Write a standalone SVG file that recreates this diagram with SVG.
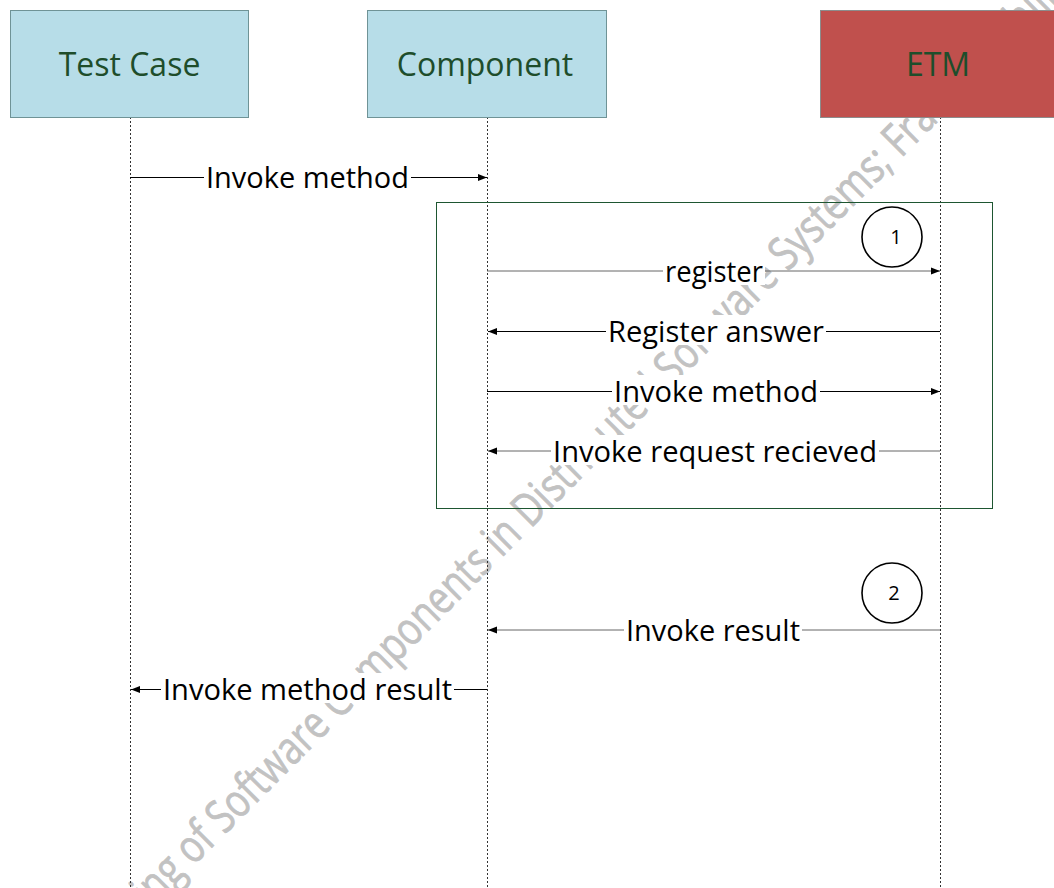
<svg xmlns="http://www.w3.org/2000/svg" width="1054" height="888" viewBox="0 0 1054 888">
<style>
.wm{font-family:"Open Sans","DejaVu Sans",sans-serif;font-size:46px;fill:#c2c2c2;stroke:#c2c2c2;stroke-width:0.8}
.node text{font-family:"Open Sans","Liberation Sans",sans-serif;font-size:32px;fill:#1e4d2b;text-anchor:middle}
.box{fill:#b7dde8;stroke:#6f9396;stroke-width:1}
.etm{fill:#c0504d;stroke:#8c8c8c;stroke-width:1}
.lbl{font-family:"Open Sans","Liberation Sans",sans-serif;font-size:29px;fill:#000;text-anchor:middle}
.lifeline{stroke:#333;stroke-width:1;stroke-dasharray:2 2;fill:none}
.msg{stroke:#000;stroke-width:1;fill:none}
.msg.g{stroke:#666}
.bg{fill:#fff}
.step circle{fill:#fff;stroke:#000;stroke-width:1.6}
.step text{font-family:"Open Sans","Liberation Sans",sans-serif;font-size:20px;fill:#000;text-anchor:middle}
.frame{fill:none;stroke:#1e5631;stroke-width:1}
</style>
<defs>
<marker id="ah" viewBox="0 0 10 10" refX="10" refY="5" markerWidth="9" markerHeight="9" markerUnits="userSpaceOnUse" orient="auto"><path d="M0,1 L10,5 L0,9 z" fill="#000"/></marker>
</defs>
<rect width="1054" height="888" fill="#fff"/>
<text class="wm" x="99.5" y="960" transform="rotate(-45 99.5 960)" textLength="1400" lengthAdjust="spacingAndGlyphs">Testing of Software Components in Distributed Software Systems; François Thillen</text>
<g id="lifelines">
<line class="lifeline" x1="130.5" y1="117" x2="130.5" y2="888"/>
<line class="lifeline" x1="487.5" y1="117" x2="487.5" y2="888"/>
<line class="lifeline" x1="940.5" y1="117" x2="940.5" y2="888"/>
</g>
<rect id="loop-frame" class="frame" x="436.5" y="202.5" width="556" height="306"/>
<g id="connectors">
<line class="msg" x1="130" y1="177.5" x2="487" y2="177.5" marker-end="url(#ah)"/>
<line class="msg g" x1="487" y1="271" x2="940" y2="271" marker-end="url(#ah)"/>
<line class="msg" x1="940" y1="331.5" x2="488" y2="331.5" marker-end="url(#ah)"/>
<line class="msg" x1="487" y1="391.5" x2="940" y2="391.5" marker-end="url(#ah)"/>
<line class="msg g" x1="940" y1="451" x2="488" y2="451" marker-end="url(#ah)"/>
<line class="msg g" x1="940" y1="630" x2="488" y2="630" marker-end="url(#ah)"/>
<line class="msg" x1="487" y1="689.5" x2="131" y2="689.5" marker-end="url(#ah)"/>
<g id="labels">
<rect class="bg" x="204" y="161" width="207" height="30"/>
<text class="lbl" x="307.5" y="188" textLength="203" lengthAdjust="spacingAndGlyphs">Invoke method</text>
<rect class="bg" x="663" y="255" width="102" height="30"/>
<text class="lbl" x="714" y="282" textLength="98" lengthAdjust="spacingAndGlyphs">register</text>
<rect class="bg" x="606" y="315" width="220" height="30"/>
<text class="lbl" x="716" y="342" textLength="216" lengthAdjust="spacingAndGlyphs">Register answer</text>
<rect class="bg" x="612" y="375" width="208" height="30"/>
<text class="lbl" x="716" y="402" textLength="204" lengthAdjust="spacingAndGlyphs">Invoke method</text>
<rect class="bg" x="551" y="435" width="328" height="30"/>
<text class="lbl" x="715" y="462" textLength="324" lengthAdjust="spacingAndGlyphs">Invoke request recieved</text>
<rect class="bg" x="624" y="614" width="178" height="30"/>
<text class="lbl" x="713" y="641" textLength="174" lengthAdjust="spacingAndGlyphs">Invoke result</text>
<rect class="bg" x="161" y="673" width="293" height="30"/>
<text class="lbl" x="307.5" y="700" textLength="289" lengthAdjust="spacingAndGlyphs">Invoke method result</text>
</g>
</g>
<g id="step1" class="step"><circle cx="892" cy="237" r="30"/><text x="896" y="244">1</text></g>
<g id="step2" class="step"><circle cx="892" cy="593" r="30"/><text x="894" y="600">2</text></g>
<g id="test-case" class="node"><rect class="box" x="10.5" y="10.5" width="238" height="107"/><text x="129.5" y="75.5">Test Case</text></g>
<g id="component" class="node"><rect class="box" x="367.5" y="10.5" width="239" height="107"/><text x="485" y="75.5">Component</text></g>
<g id="etm" class="node"><rect class="etm" x="820.5" y="10.5" width="240" height="107"/><text x="938" y="75.5">ETM</text></g>
</svg>
